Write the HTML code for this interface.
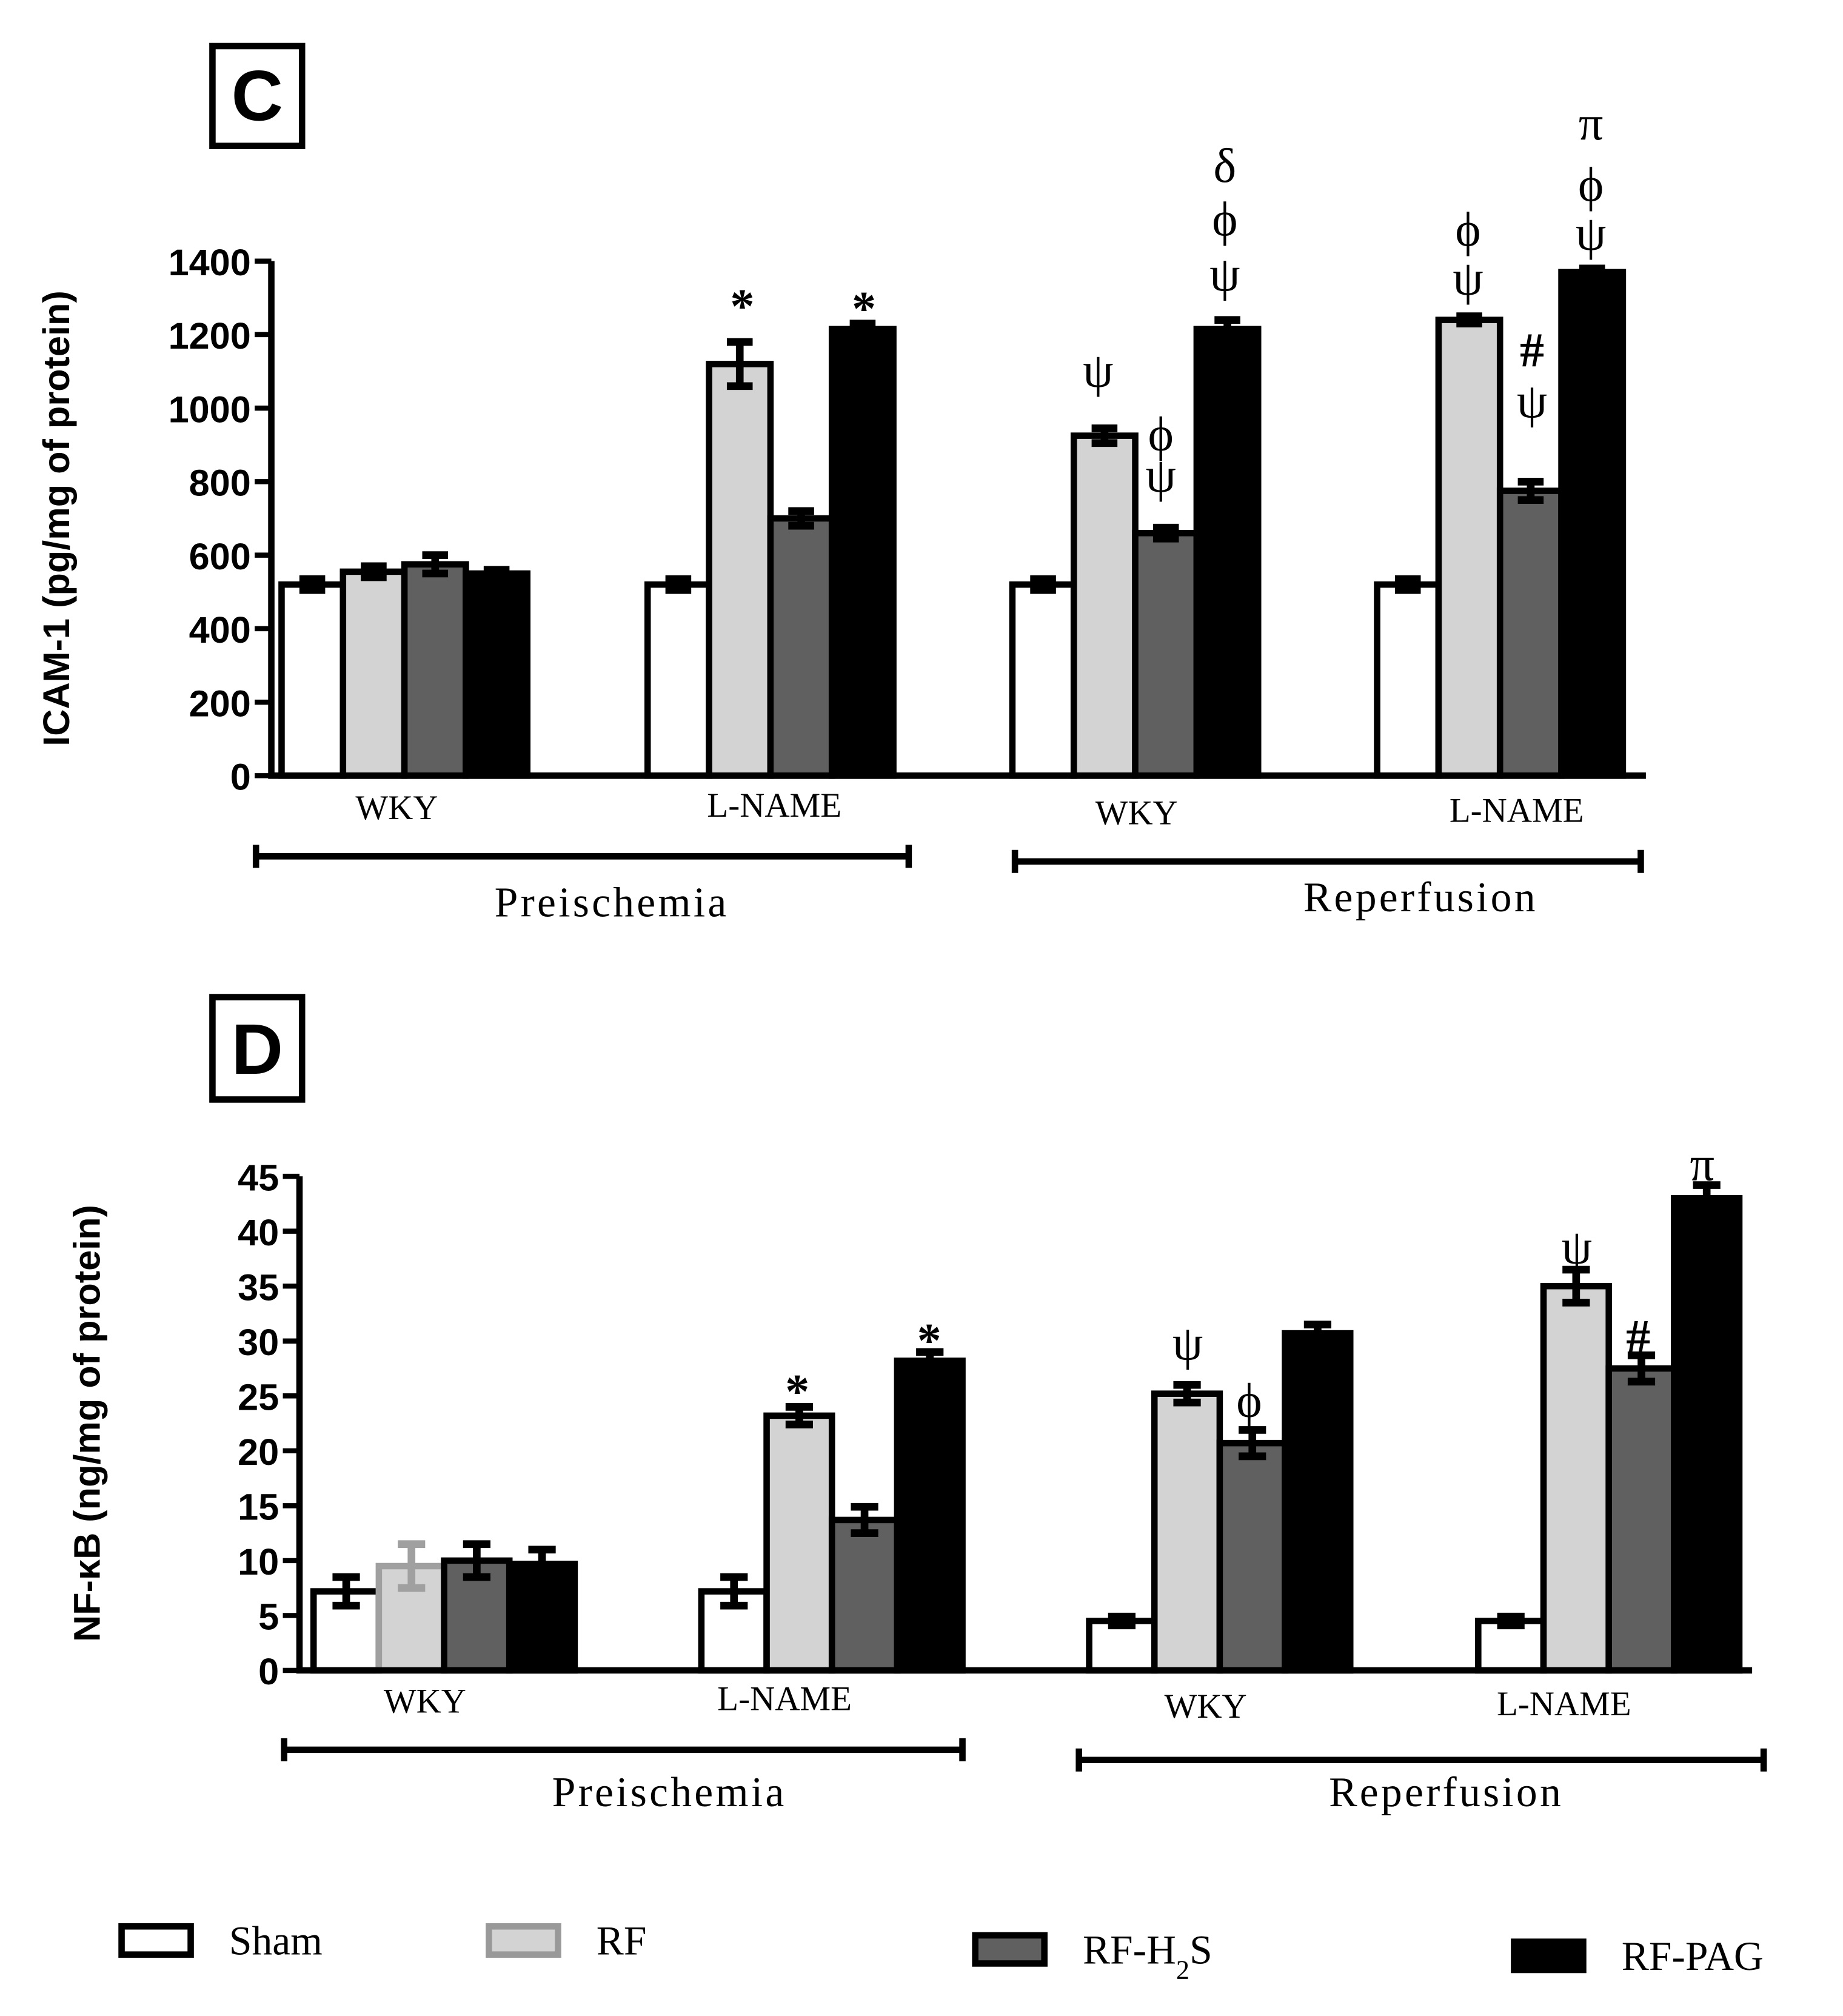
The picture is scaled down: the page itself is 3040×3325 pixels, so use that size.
<!DOCTYPE html>
<html><head><meta charset="utf-8"><style>
html,body{margin:0;padding:0;background:#fff;}
svg{display:block;}
.tk{font-family:"Liberation Sans",Arial,sans-serif;font-weight:bold;font-size:29px;}
.ttl{font-family:"Liberation Sans",Arial,sans-serif;font-weight:bold;font-size:29px;}
.srf{font-family:"Liberation Serif","DejaVu Serif",serif;}
.ann{font-family:"Liberation Serif","DejaVu Serif",serif;font-size:38px;}
</style></head><body>
<svg id="fig" width="3040" height="3325" viewBox="0 0 1440 1575" xmlns="http://www.w3.org/2000/svg">
<g>
<rect x="166" y="36" width="70" height="78" fill="#fff" stroke="#000" stroke-width="5"/>
<text x="201" y="94" text-anchor="middle" class="ttl" style="font-size:56px">C</text></g>
<g>
<rect x="166" y="779" width="70" height="80" fill="#fff" stroke="#000" stroke-width="5"/>
<text x="201" y="839" text-anchor="middle" class="ttl" style="font-size:56px">D</text></g>
<g id="chartC"></g>
<g id="chartD"></g>
<g id="legend"></g>
</svg>
<script>
const NS="http://www.w3.org/2000/svg";
const seriesNames=["Sham","RF","RF-H2S","RF-PAG"];
const fills=["#ffffff","#d3d3d3","#606060","#000000"];
const groupLabels=["WKY","L-NAME","WKY","L-NAME"];
// ICAM-1 data
const icamSham=[520,520,520,520];
const icamRF=[555,1120,925,1240];
const icamH2S=[575,700,660,775];
const icamPAG=[550,1215,1215,1370];
const icamErrSham=[15,15,15,15];
const icamErrRF=[15,60,20,10];
const icamErrH2S=[25,20,15,25];
const icamErrPAG=[10,15,25,10];
const icamTicks=[0,200,400,600,800,1000,1200,1400];
// NF-kB data
const nfSham=[7.2,7.2,4.5,4.5];
const nfRF=[9.5,23.2,25.2,35];
const nfH2S=[10,13.7,20.7,27.5];
const nfPAG=[9.7,28.2,30.7,43];
const nfErrSham=[1.3,1.3,0.4,0.4];
const nfErrRF=[2,0.8,0.8,1.5];
const nfErrH2S=[1.5,1.2,1.2,1.2];
const nfErrPAG=[1.3,0.8,0.8,1.2];
const nfTicks=[0,5,10,15,20,25,30,35,40,45];

function mk(parent,tag,attrs,text){const e=document.createElementNS(NS,tag);for(const k in attrs)e.setAttribute(k,attrs[k]);if(text!==undefined)e.textContent=text;parent.appendChild(e);return e;}

function chart(gid,cfg){
  const g=document.getElementById(gid);
  const y=v=>cfg.y0-(v/cfg.max)*(cfg.y0-cfg.yTop);
  const vals=[cfg.sham,cfg.rf,cfg.h2s,cfg.pag], errs=[cfg.es,cfg.er,cfg.eh,cfg.ep];
  for(let gi=0;gi<4;gi++){
    const gx=cfg.groupX[gi];
    for(let s=0;s<4;s++){
      const x0=gx+s*cfg.bw, v=vals[s][gi], e=errs[s][gi];
      let stroke=(gid==="chartD"&&gi===0&&s===1)?"#a0a0a0":"#000";
      const r=mk(g,"rect",{x:x0,y:y(v),width:cfg.bw,height:cfg.y0-y(v),fill:fills[s],stroke:stroke,"stroke-width":5});
      
      
      const cx=x0+cfg.bw/2, cw=cfg.bw*0.42;
      const eb=mk(g,"path",{d:`M${cx},${y(v+e)}V${y(v-e)}M${cx-cw/2},${y(v+e)}h${cw}M${cx-cw/2},${y(v-e)}h${cw}`,stroke:(s===3?"#000":stroke),"stroke-width":6,fill:"none"});
      
      
    }
  }
  const ax=mk(g,"path",{d:`M${cfg.ax},${cfg.yTop}V${cfg.y0}H${cfg.xEnd}`,stroke:"#000","stroke-width":5,fill:"none"});
  
  
  cfg.ticks.forEach(t=>{
    mk(g,"line",{x1:cfg.ax-13,x2:cfg.ax,y1:y(t),y2:y(t),stroke:"#000","stroke-width":4});
    const tl=mk(g,"text",{x:cfg.ax-16,y:y(t)+11,"text-anchor":"end",class:"tk"},String(t));
    
    
  });
  const tt=mk(g,"text",{x:0,y:0,"text-anchor":"middle",class:"ttl",transform:`translate(${cfg.titleX},${(cfg.y0+cfg.yTop)/2}) rotate(-90)`},cfg.title);
  
  
  groupLabels.forEach((l,i)=>{
    const t=mk(g,"text",{x:cfg.labX[i],y:cfg.labY[i],"text-anchor":"middle",class:"srf",style:"font-size:27px"},l);
    
    
  });
  cfg.brackets.forEach(b=>{
    mk(g,"path",{d:`M${b[0]},${b[2]}H${b[1]}M${b[0]},${b[2]-9}v18M${b[1]},${b[2]-9}v18`,stroke:"#000","stroke-width":5,fill:"none"});
    const t=mk(g,"text",{x:b[3],y:b[4],"text-anchor":"middle",class:"srf",style:"font-size:33px;letter-spacing:2px"},b[5]);
    
    
  });
  cfg.ann.forEach(a=>{
    const t=mk(g,"text",{x:a[0],y:a[1],"text-anchor":"middle",class:"ann","font-weight":a[2]==="*"||a[2]==="#"?"bold":"normal"},a[2]);
    
    
  });
}
chart("chartC",{y0:606,yTop:204,max:1400,ax:212,xEnd:1286,bw:48,groupX:[220,506,791,1076],
 sham:icamSham,rf:icamRF,h2s:icamH2S,pag:icamPAG,es:icamErrSham,er:icamErrRF,eh:icamErrH2S,ep:icamErrPAG,
 ticks:icamTicks,title:"ICAM-1 (pg/mg of protein)",titleX:54,
 labX:[310,605,888,1185],labY:[640,638,644,642],
 brackets:[[200,710,669,478,716,"Preischemia"],[793,1282,673,1110,712,"Reperfusion"]],
 ann:[[580,252,"*"],[675,254,"*"],[858,302,"ψ"],[907,352,"ϕ"],[907,384,"ψ"],[957,142,"δ"],[957,184,"ϕ"],[957,227,"ψ"],[1147,192,"ϕ"],[1147,230,"ψ"],[1197,286,"#"],[1197,326,"ψ"],[1243,109,"π"],[1243,157,"ϕ"],[1243,195,"ψ"]]});
chart("chartD",{y0:1305,yTop:919,max:45,ax:234,xEnd:1369,bw:51,groupX:[245,548,851,1155],
 sham:nfSham,rf:nfRF,h2s:nfH2S,pag:nfPAG,es:nfErrSham,er:nfErrRF,eh:nfErrH2S,ep:nfErrPAG,
 ticks:nfTicks,title:"NF-κB (ng/mg of protein)",titleX:78,
 labX:[332,613,942,1222],labY:[1338,1336,1342,1340],
 brackets:[[222,752,1367,523,1411,"Preischemia"],[843,1378,1375,1130,1411,"Reperfusion"]],
 ann:[[623,1100,"*"],[726,1060,"*"],[928,1062,"ψ"],[976,1107,"ϕ"],[1232,987,"ψ"],[1280,1057,"#"],[1330,922,"π"]]});
const lg=document.getElementById("legend");
const legBox=[[95,1505],[382,1505],[762,1512],[1183,1517]];
const legStroke=["#000","#999","#000","#000"];
const legText=["Sham","RF","RF-H<tspan baseline-shift=\"sub\" font-size=\"21\">2</tspan>S","RF-PAG"];
legBox.forEach((b,i)=>{
  const r=mk(lg,"rect",{x:b[0],y:b[1],width:54,height:22,fill:fills[i],stroke:legStroke[i],"stroke-width":5});
  
  
  const t=mk(lg,"text",{x:b[0]+84,y:b[1]+22,class:"srf",style:"font-size:32px"});
  t.innerHTML=legText[i];
  
  
});
</script>
</body></html>
